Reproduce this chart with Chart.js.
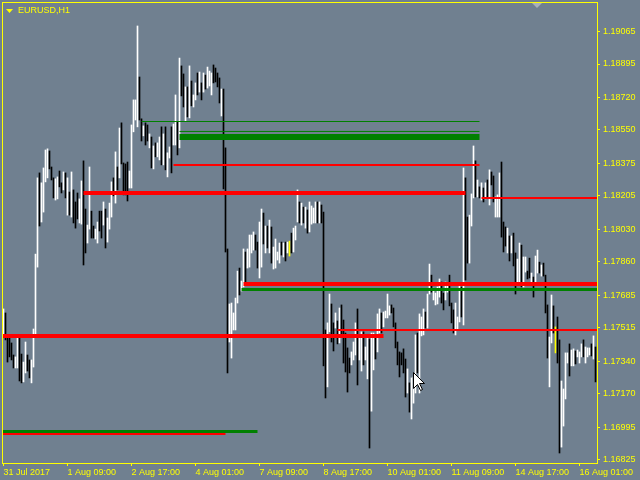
<!DOCTYPE html>
<html>
<head>
<meta charset="utf-8">
<script src="https://cdn.jsdelivr.net/npm/chart.js@4"></script>
<style>
  html, body { margin: 0; padding: 0; background: #708090; }
  canvas { display: block; }
</style>
</head>
<body>
<canvas id="chart" width="640" height="480"></canvas>
<script>
// EURUSD H1 - one bar per hour, index 0 = 31 Jul 2017 01:00
const barHigh = [
  1.17613, 1.17592, 1.17477, 1.17461, 1.17435, 1.17372, 1.17362, 1.17472, 1.17466, 1.17377,
  1.17335, 1.17440, 1.17372, 1.17346, 1.17346, 1.17508, 1.17900, 1.18299, 1.18325, 1.18273,
  1.18351, 1.18445, 1.18451, 1.18440, 1.18356, 1.18299, 1.18294, 1.18304, 1.18335, 1.18273,
  1.18330, 1.18325, 1.18299, 1.18225, 1.18330, 1.18236, 1.18173, 1.18220, 1.18189, 1.18283,
  1.18388, 1.18136, 1.18052, 1.18356, 1.18125, 1.18047, 1.18031, 1.18068, 1.18125, 1.18125,
  1.18173, 1.18136, 1.18089, 1.18167, 1.18278, 1.18299, 1.18435, 1.18356, 1.18560, 1.18587,
  1.18377, 1.18372, 1.18382, 1.18335, 1.18576, 1.18707, 1.18707, 1.19094, 1.18827, 1.18608,
  1.18571, 1.18587, 1.18576, 1.18529, 1.18513, 1.18466, 1.18482, 1.18482, 1.18513, 1.18566,
  1.18529, 1.18566, 1.18430, 1.18461, 1.18566, 1.18581, 1.18733, 1.18592, 1.18926, 1.18885,
  1.18843, 1.18775, 1.18775, 1.18885, 1.18806, 1.18733, 1.18796, 1.18848, 1.18853, 1.18796,
  1.18848, 1.18837, 1.18879, 1.18858, 1.18848, 1.18890, 1.18874, 1.18848, 1.18822, 1.18764,
  1.18764, 1.18456, 1.17927, 1.17639, 1.17644, 1.17592, 1.17670, 1.17811, 1.17827, 1.17759,
  1.17927, 1.17911, 1.17927, 1.18000, 1.18000, 1.18016, 1.18000, 1.17963, 1.18068, 1.18136,
  1.18115, 1.18047, 1.18047, 1.18078, 1.18042, 1.17937, 1.17979, 1.17911, 1.17958, 1.17963,
  1.17958, 1.17963, 1.17963, 1.17968, 1.18010, 1.18036, 1.18047, 1.18236, 1.18173, 1.18167,
  1.18146, 1.18146, 1.18131, 1.18173, 1.18152, 1.18141, 1.18173, 1.18173, 1.18173, 1.18157,
  1.18120, 1.17503, 1.17540, 1.17691, 1.17639, 1.17540, 1.17592, 1.17550, 1.17618, 1.17634,
  1.17555, 1.17487, 1.17409, 1.17356, 1.17388, 1.17440, 1.17540, 1.17613, 1.17477, 1.17493,
  1.17493, 1.17414, 1.17466, 1.17456, 1.17487, 1.17487, 1.17477, 1.17587, 1.17613, 1.17592,
  1.17597, 1.17602, 1.17691, 1.17629, 1.17634, 1.17618, 1.17540, 1.17440, 1.17388, 1.17383,
  1.17404, 1.17351, 1.17299, 1.17226, 1.17252, 1.17257, 1.17477, 1.17487, 1.17587, 1.17571,
  1.17613, 1.17597, 1.17691, 1.17848, 1.17790, 1.17722, 1.17696, 1.17728, 1.17770, 1.17754,
  1.17696, 1.17754, 1.17749, 1.17790, 1.17644, 1.17608, 1.17644, 1.17571, 1.17733, 1.17728,
  1.18351, 1.18299, 1.18094, 1.18104, 1.18215, 1.18466, 1.18388, 1.18288, 1.18252, 1.18273,
  1.18246, 1.18273, 1.18288, 1.18341, 1.18330, 1.18309, 1.18199, 1.18210, 1.18325, 1.18382,
  1.18068, 1.18042, 1.18036, 1.17995, 1.17995, 1.18010, 1.17906, 1.17874, 1.17958, 1.17947,
  1.17885, 1.17885, 1.17811, 1.17879, 1.17801, 1.17780, 1.17890, 1.17921, 1.17858, 1.17843,
  1.17853, 1.17790, 1.17634, 1.17466, 1.17686, 1.17629, 1.17519, 1.17571, 1.17451, 1.17236,
  1.17194, 1.17383, 1.17383, 1.17430, 1.17398, 1.17404, 1.17393, 1.17398, 1.17388, 1.17430,
  1.17451, 1.17414, 1.17409, 1.17409, 1.17430, 1.17472, 1.17414
];
const barLow = [
  1.17466, 1.17451, 1.17335, 1.17362, 1.17346, 1.17304, 1.17304, 1.17304, 1.17236, 1.17226,
  1.17231, 1.17278, 1.17288, 1.17252, 1.17226, 1.17309, 1.17466, 1.17832, 1.18047, 1.18068,
  1.18120, 1.18278, 1.18299, 1.18346, 1.18288, 1.18194, 1.18183, 1.18189, 1.18252, 1.18220,
  1.18236, 1.18194, 1.18104, 1.18104, 1.18094, 1.18063, 1.18036, 1.18084, 1.18063, 1.18057,
  1.17843, 1.17906, 1.17958, 1.18031, 1.17984, 1.17984, 1.17979, 1.17958, 1.18021, 1.17984,
  1.18052, 1.17932, 1.17963, 1.18031, 1.18094, 1.18205, 1.18167, 1.18236, 1.18299, 1.18372,
  1.18210, 1.18210, 1.18178, 1.18246, 1.18246, 1.18540, 1.18602, 1.18566, 1.18602, 1.18492,
  1.18519, 1.18471, 1.18492, 1.18456, 1.18351, 1.18346, 1.18409, 1.18409, 1.18393, 1.18367,
  1.18367, 1.18341, 1.18304, 1.18403, 1.18325, 1.18471, 1.18471, 1.18419, 1.18456, 1.18728,
  1.18670, 1.18597, 1.18618, 1.18613, 1.18676, 1.18670, 1.18707, 1.18733, 1.18748, 1.18707,
  1.18748, 1.18764, 1.18769, 1.18780, 1.18733, 1.18796, 1.18801, 1.18775, 1.18691, 1.18623,
  1.18241, 1.17911, 1.17278, 1.17440, 1.17356, 1.17503, 1.17503, 1.17644, 1.17686, 1.17707,
  1.17728, 1.17754, 1.17827, 1.17832, 1.17906, 1.17921, 1.17921, 1.17827, 1.17775, 1.17832,
  1.17953, 1.17906, 1.17932, 1.17906, 1.17853, 1.17822, 1.17827, 1.17869, 1.17853, 1.17895,
  1.17885, 1.17864, 1.17906, 1.17890, 1.17906, 1.17911, 1.17974, 1.18068, 1.18063, 1.18052,
  1.18063, 1.18036, 1.18010, 1.18016, 1.18057, 1.18063, 1.18063, 1.18063, 1.18063, 1.18063,
  1.17315, 1.17147, 1.17205, 1.17493, 1.17440, 1.17393, 1.17513, 1.17430, 1.17435, 1.17477,
  1.17330, 1.17283, 1.17178, 1.17278, 1.17320, 1.17346, 1.17372, 1.17215, 1.17346, 1.17288,
  1.17320, 1.17346, 1.17247, 1.16885, 1.17078, 1.17294, 1.17351, 1.17388, 1.17487, 1.17487,
  1.17519, 1.17566, 1.17566, 1.17581, 1.17592, 1.17519, 1.17409, 1.17320, 1.17257, 1.17320,
  1.17278, 1.17152, 1.17173, 1.17073, 1.17037, 1.17120, 1.17173, 1.17278, 1.17173, 1.17472,
  1.17477, 1.17513, 1.17513, 1.17691, 1.17701, 1.17660, 1.17634, 1.17639, 1.17675, 1.17644,
  1.17608, 1.17660, 1.17701, 1.17629, 1.17540, 1.17487, 1.17477, 1.17508, 1.17545, 1.17571,
  1.17529, 1.17764, 1.17853, 1.17853, 1.18047, 1.18194, 1.18199, 1.18199, 1.18194, 1.18183,
  1.18173, 1.18189, 1.18199, 1.18157, 1.18262, 1.18173, 1.18094, 1.18094, 1.18094, 1.17989,
  1.17911, 1.17942, 1.17906, 1.17864, 1.17906, 1.17838, 1.17691, 1.17738, 1.17738, 1.17728,
  1.17728, 1.17806, 1.17770, 1.17775, 1.17738, 1.17675, 1.17743, 1.17801, 1.17801, 1.17785,
  1.17785, 1.17592, 1.17356, 1.17205, 1.17435, 1.17487, 1.17383, 1.17330, 1.16859, 1.16890,
  1.17000, 1.17142, 1.17330, 1.17262, 1.17315, 1.17315, 1.17325, 1.17362, 1.17330, 1.17362,
  1.17362, 1.17330, 1.17362, 1.17372, 1.17367, 1.17351, 1.17231
];
// u = bull bar, d = bear bar, n = unchanged
const barDir = (
  'uddddduudd' + 'uudduuuudu' + 'uuuddduudd' + 'udududdduu' + 'dduudduudd' +
  'uduuududud' + 'ddduuuuudd' + 'uddududuud' + 'uduuduudud' + 'dududuudud' +
  'uduuuddddu' + 'ddduuuuudu' + 'uduuuudduu' + 'dududuuuud' + 'udunduuudu' +
  'duduuuudud' + 'dduuddudud' + 'dddduuuduu' + 'duuduuduud' + 'uuuudddddd' +
  'dduduuuduu' + 'uduuduuuud' + 'duuddduuud' + 'udduuududu' + 'dududduuud' +
  'ddududduud' + 'uudduduudu' + 'ddduudnddu' + 'uuuduuduuu' + 'duuudud'
).split('');

// x axis labels (bar index -> text)
const timeTickIdx = [0, 32, 64, 96, 128, 160, 192, 224, 256, 288];
const timeTickText = ['31 Jul 2017', '1 Aug 09:00', '2 Aug 17:00', '4 Aug 01:00', '7 Aug 09:00',
  '8 Aug 17:00', '10 Aug 01:00', '11 Aug 09:00', '14 Aug 17:00', '16 Aug 01:00'];
// price axis labels
const priceTicks = [1.19065, 1.18895, 1.18720, 1.18550, 1.18375, 1.18205, 1.18030,
  1.17860, 1.17685, 1.17515, 1.17340, 1.17170, 1.16995, 1.16825];

// horizontal levels: price, first bar, last bar
const levelPrice = [1.18594, 1.18542, 1.18513, 1.18367, 1.18220, 1.18194,
  1.17743, 1.17715, 1.17503, 1.17472, 1.16971, 1.16958];
const levelFrom = [69, 88, 88, 85, 40, -1, 120, 119, 167, -1, -1, -1];
const levelTo = [238, 238, 238, 238, 231, 297, 297, 297, 297, 190, 127, 111];
const levelStart6 = 239; // the thin red one at the right starts here

const RED = '#ff0000';
const GREEN = '#008000';
const levelColor = [GREEN, GREEN, GREEN, RED, RED, RED, RED, GREEN, RED, RED, GREEN, RED];
const levelWidth = [1, 1, 6, 2, 4, 2, 4, 3, 2, 4, 3, 2];

const YELLOW = '#ffff00';
const BG = '#708090';
const FONT = { family: 'Liberation Sans', size: 9 };

const levelSets = levelPrice.map((p, k) => ({
  type: 'line',
  data: [{ x: k === 5 ? levelStart6 : levelFrom[k], y: p }, { x: levelTo[k], y: p }],
  borderColor: levelColor[k],
  borderWidth: levelWidth[k],
  pointRadius: 0,
  clip: 0,
  order: 0
}));

const barSet = {
  type: 'bar',
  data: barHigh.map((h, i) => ({ x: i, y: [barLow[i], h] })),
  backgroundColor: barDir.map(d => d === 'u' ? '#ffffff' : d === 'd' ? '#000000' : YELLOW),
  borderWidth: 0,
  barThickness: 1,
  order: 1
};

// background, frame, symbol title, cursor
const mtFrame = {
  id: 'mtFrame',
  beforeDraw(chart) {
    const c = chart.ctx;
    c.save();
    c.fillStyle = BG;
    c.fillRect(0, 0, chart.width, chart.height);
    c.restore();
  },
  afterDraw(chart) {
    const c = chart.ctx;
    c.save();
    c.fillStyle = YELLOW;
    c.fillRect(2, 2, 596, 1);
    c.fillRect(2, 2, 1, 462);
    // title
    c.beginPath();
    c.moveTo(6, 9); c.lineTo(13, 9); c.lineTo(9.5, 13); c.closePath();
    c.fill();
    c.font = '9px "Liberation Sans"';
    c.textBaseline = 'middle';
    c.fillText('EURUSD,H1', 18, 11);
    // chart shift marker
    c.fillStyle = '#a7b0ba';
    c.beginPath();
    c.moveTo(532, 3); c.lineTo(542, 3); c.lineTo(537, 8); c.closePath();
    c.fill();
    // mouse cursor
    c.translate(413.5, 372.5);
    c.beginPath();
    c.moveTo(0, 0); c.lineTo(0, 16); c.lineTo(4, 12); c.lineTo(7, 18);
    c.lineTo(9, 17); c.lineTo(6, 11); c.lineTo(11, 11); c.closePath();
    c.fillStyle = '#ffffff';
    c.fill();
    c.strokeStyle = '#000000';
    c.lineWidth = 1;
    c.stroke();
    c.restore();
  }
};

const ctx = document.getElementById('chart');
new Chart(ctx, {
  type: 'bar',
  data: { datasets: [...levelSets, barSet] },
  options: {
    responsive: false,
    animation: false,
    devicePixelRatio: 1,
    layout: { padding: { left: 2, top: 2, right: 0, bottom: 0 } },
    plugins: { legend: { display: false }, tooltip: { enabled: false } },
    scales: {
      x: {
        type: 'linear',
        min: -0.75,
        max: 296.75,
        offset: false,
        grid: { display: true, offset: false, drawOnChartArea: false, color: YELLOW, tickLength: 3 },
        border: { display: true, color: YELLOW, width: 1 },
        ticks: {
          autoSkip: false, maxRotation: 0, align: 'start', padding: 1,
          color: YELLOW, font: FONT,
          callback: v => timeTickText[timeTickIdx.indexOf(v)]
        },
        afterBuildTicks: s => { s.ticks = timeTickIdx.map(v => ({ value: v })); },
        afterFit: s => { s.height = 17; s.paddingLeft = 0; s.paddingRight = 0; }
      },
      y: {
        position: 'right',
        min: 1.168067,
        max: 1.192195,
        grid: { display: true, drawOnChartArea: false, color: YELLOW, tickLength: 3 },
        border: { display: true, color: YELLOW, width: 1 },
        ticks: {
          padding: 3, color: YELLOW, font: FONT,
          callback: v => v.toFixed(5)
        },
        afterBuildTicks: s => { s.ticks = priceTicks.map(v => ({ value: v })); },
        afterFit: s => { s.width = 43; s.paddingTop = 0; s.paddingBottom = 0; }
      }
    }
  },
  plugins: [mtFrame]
});
</script>
</body>
</html>
